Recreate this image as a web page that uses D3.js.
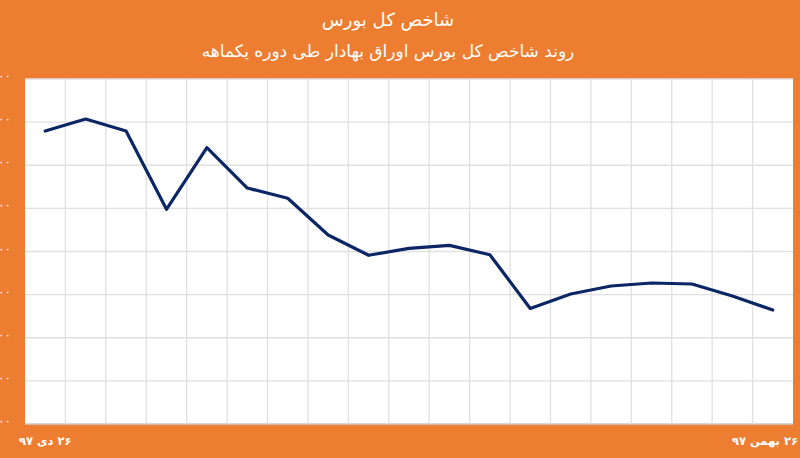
<!DOCTYPE html>
<html><head><meta charset="utf-8">
<script src="https://cdn.jsdelivr.net/npm/d3@7"></script>
<style>
html,body{margin:0;padding:0;background:#ED7D31;overflow:hidden}
svg{display:block}
text{font-family:"DejaVu Sans",sans-serif}
</style></head>
<body>
<svg id="c" width="800" height="458"></svg>
<script>
const title = "شاخص کل بورس";
const subtitle = "روند شاخص کل بورس اوراق بهادار طی دوره یکماهه";
const categories = ["۲۶ دی ۹۷","","","","","","","","","","","","","","","","","","۲۶ بهمن ۹۷"];
const values = [160794,161072,160794,158979,160407,159472,159234,158383,157912,158074,158143,157926,156678,157014,157200,157270,157246,156968,156643];
const yTicks = [154000,155000,156000,157000,158000,159000,160000,161000,162000];

const W=800,H=458;
const m={left:25,right:7,top:79,bottom:34};
const svg=d3.select("#c");
svg.append("rect").attr("width",W).attr("height",H).attr("fill","#ED7D31");

const x=d3.scaleBand().domain(d3.range(categories.length)).range([m.left,W-m.right]).padding(0);
const y=d3.scaleLinear().domain([yTicks[0],yTicks[yTicks.length-1]]).range([H-m.bottom,m.top]);

const fa = s => String(s).replace(/\d/g,d=>"۰۱۲۳۴۵۶۷۸۹"[d]);

svg.append("rect").attr("x",m.left).attr("y",m.top)
  .attr("width",W-m.right-m.left).attr("height",H-m.bottom-m.top).attr("fill","#fff");

// horizontal gridlines
svg.append("g").selectAll("line").data(yTicks).join("line")
  .attr("x1",m.left).attr("x2",W-m.right)
  .attr("y1",d=>y(d)).attr("y2",d=>y(d))
  .attr("stroke",d=>d===yTicks[0]?"#C8C8C8":"#E0E0E0").attr("stroke-width",1.3);
// vertical gridlines at category boundaries
svg.append("g").selectAll("line").data(d3.range(1,categories.length)).join("line")
  .attr("x1",d=>x(d)).attr("x2",d=>x(d))
  .attr("y1",m.top).attr("y2",H-m.bottom)
  .attr("stroke","#E0E0E0").attr("stroke-width",1.3);

// y labels (partly outside the left edge, as in the original)
svg.append("g").selectAll("text").data(yTicks).join("text")
  .attr("x",11).attr("y",d=>y(d)+1)
  .attr("text-anchor","end").attr("fill","#fff").attr("font-size",12)
  .attr("direction","ltr")
  .text(d=>fa(d3.format(",")(d)));

// x labels
const xl = categories.map((c,i)=>({c,i})).filter(d=>d.c);
svg.append("g").selectAll("text").data(xl).join("text")
  .attr("y",445)
  .attr("direction","rtl")
  .attr("text-anchor","middle").attr("fill","#fff").attr("font-size",11.5).attr("font-weight","bold")
  .text(d=>d.c)
  .each(function(d){
    const w=this.getComputedTextLength();
    const cx=x(d.i)+x.bandwidth()/2;
    d3.select(this).attr("x",Math.max(w/2+2,Math.min(cx,W-w/2-2)));
  });

// line
svg.append("path").datum(values)
  .attr("fill","none").attr("stroke","#0B2665").attr("stroke-width",3.2)
  .attr("stroke-linejoin","round").attr("stroke-linecap","round")
  .attr("d",d3.line().x((d,i)=>x(i)+x.bandwidth()/2).y(d=>y(d)));

// titles
svg.append("text").attr("x",388).attr("y",26).attr("text-anchor","middle").attr("direction","rtl")
  .attr("fill","#fff").attr("font-size",18).text(title);
svg.append("text").attr("x",388).attr("y",57).attr("text-anchor","middle").attr("direction","rtl")
  .attr("fill","#fff").attr("font-size",17).text(subtitle);
</script>
</body></html>
